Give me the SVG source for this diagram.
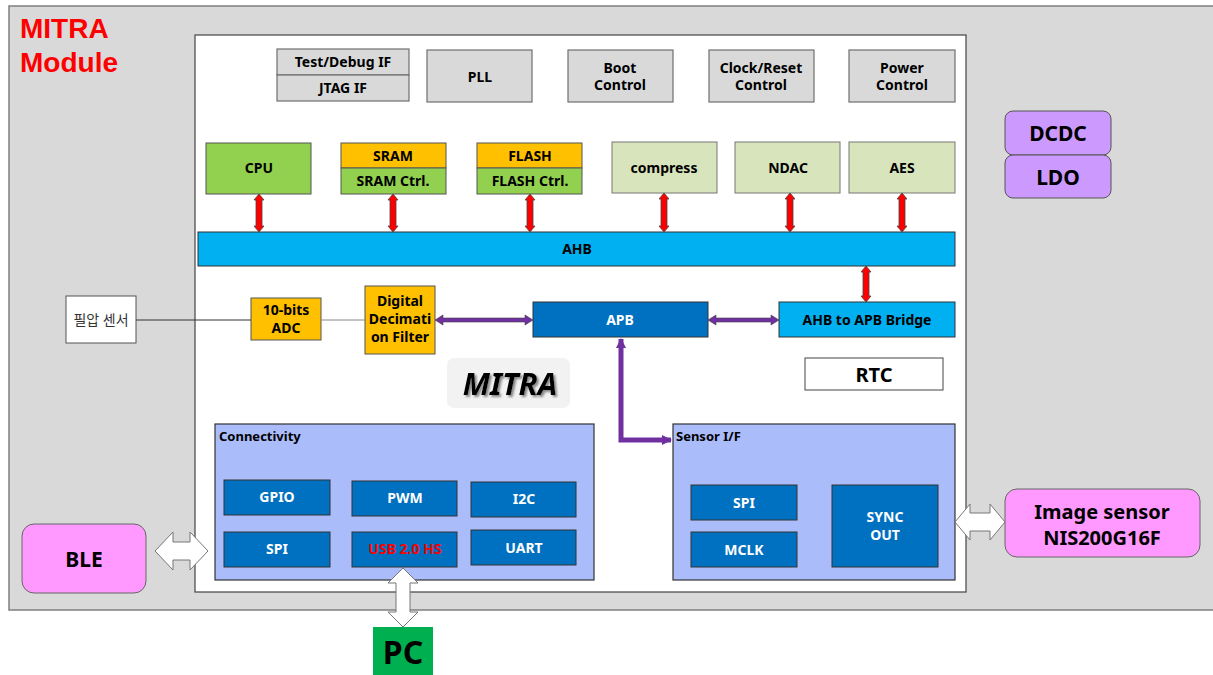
<svg xmlns="http://www.w3.org/2000/svg" width="1213" height="675" viewBox="0 0 1213 675">
<defs>
<style>
text{font-family:"Noto Sans","Noto Sans CJK KR",sans-serif;font-weight:bold;text-anchor:middle;fill:#000}
.g{fill:#d9d9d9;stroke:#6f6f6f;stroke-width:1.2}
.gr{fill:#92d050;stroke:#555;stroke-width:1}
.or{fill:#ffc000;stroke:#555;stroke-width:1}
.lg{fill:#d8e4bc;stroke:#777;stroke-width:1}
.cy{fill:#00b0f0;stroke:#333;stroke-width:1}
.db{fill:#0070c0;stroke:#333;stroke-width:1}
.lb{fill:#abbcfa;stroke:#333;stroke-width:1.2}
.pk{fill:#ff99ff;stroke:#666;stroke-width:1}
.pu{fill:#cc99ff;stroke:#555;stroke-width:1}
.ra{fill:#ff0000;stroke:#444;stroke-width:0.8}
.pa{fill:#7030a0;stroke:#444;stroke-width:0.6}
.ba{fill:#fff;stroke:#777;stroke-width:1}
.t14{font-size:14px}
.w{fill:#fff}
.title{font-family:"Liberation Sans",Arial,sans-serif;font-size:28px;fill:#ff0000;text-anchor:start}
</style>
<marker id="ph" viewBox="0 0 10 10" refX="9" refY="5" markerWidth="10" markerHeight="10" markerUnits="userSpaceOnUse" orient="auto-start-reverse">
<path d="M0,0 L10,5 L0,10 Z" fill="#7030a0"/>
</marker>
<filter id="sh" x="-10%" y="-10%" width="130%" height="130%"><feDropShadow dx="2" dy="2" stdDeviation="1" flood-color="#888"/></filter>
</defs>

<g id="module">
<rect x="9" y="6" width="1210" height="604" fill="#d9d9d9" stroke="#7f7f7f" stroke-width="1.5"/>
<text class="title" x="20" y="38">MITRA</text>
<text class="title" x="20" y="72">Module</text>
</g>
<g id="chip"><rect x="195" y="35" width="771" height="557" fill="#fff" stroke="#444" stroke-width="1.2"/></g>

<g id="testdebug"><rect class="g" x="277" y="49" width="132" height="26"/><text class="t14" x="343" y="67">Test/Debug IF</text></g>
<g id="jtag"><rect class="g" x="277" y="75" width="132" height="26"/><text class="t14" x="343" y="93">JTAG IF</text></g>
<g id="pll"><rect class="g" x="427" y="50" width="105" height="52"/><text class="t14" x="480" y="82">PLL</text></g>
<g id="boot"><rect class="g" x="568" y="50" width="105" height="52"/><text class="t14" x="620" y="73">Boot</text><text class="t14" x="620" y="90">Control</text></g>
<g id="clock"><rect class="g" x="709" y="50" width="105" height="52"/><text class="t14" x="761" y="73">Clock/Reset</text><text class="t14" x="761" y="90">Control</text></g>
<g id="power"><rect class="g" x="849" y="50" width="106" height="52"/><text class="t14" x="902" y="73">Power</text><text class="t14" x="902" y="90">Control</text></g>

<g id="cpu"><rect class="gr" x="206" y="143" width="105" height="51"/><text class="t14" x="259" y="173">CPU</text></g>
<g id="sram"><rect class="or" x="341" y="143" width="105" height="25"/><text class="t14" x="393" y="161">SRAM</text><rect class="gr" x="341" y="168" width="105" height="26"/><text class="t14" x="393" y="186">SRAM Ctrl.</text></g>
<g id="flash"><rect class="or" x="477" y="143" width="105" height="25"/><text class="t14" x="530" y="161">FLASH</text><rect class="gr" x="477" y="168" width="105" height="26"/><text class="t14" x="530" y="186">FLASH Ctrl.</text></g>
<g id="compress"><rect class="lg" x="612" y="142" width="105" height="51"/><text class="t14" x="664" y="173">compress</text></g>
<g id="ndac"><rect class="lg" x="735" y="142" width="105" height="51"/><text class="t14" x="788" y="173">NDAC</text></g>
<g id="aes"><rect class="lg" x="849" y="142" width="106" height="51"/><text class="t14" x="902" y="173">AES</text></g>

<g id="ahb"><rect class="cy" x="198" y="232" width="757" height="34"/><text class="t14" x="577" y="254">AHB</text></g>
<g id="apb"><rect class="db" x="533" y="302" width="175" height="35"/><text class="t14 w" x="620" y="325">APB</text></g>
<g id="bridge"><rect class="cy" x="779" y="302" width="176" height="35"/><text class="t14" x="867" y="325">AHB to APB Bridge</text></g>
<g id="rtc"><rect x="805" y="358" width="138" height="32" fill="#fff" stroke="#444" stroke-width="1"/><text x="874" y="382" style="font-size:20px">RTC</text></g>

<g id="sensor"><rect x="66" y="296" width="70" height="47" fill="#fff" stroke="#555" stroke-width="1"/><text x="101" y="325" style="font-size:14px;font-weight:normal;fill:#333">필압 센서</text></g>
<g id="adc"><rect class="or" x="251" y="298" width="70" height="42"/><text class="t14" x="286" y="315">10-bits</text><text class="t14" x="286" y="333">ADC</text></g>
<g id="filter"><rect class="or" x="365" y="286" width="70" height="68"/><text class="t14" x="400" y="306">Digital</text><text class="t14" x="400" y="324">Decimati</text><text class="t14" x="400" y="342">on Filter</text></g>

<g id="mitra"><rect x="447" y="358" width="123" height="50" rx="7" fill="#f2f2f2"/><text x="510" y="395" style="font-size:31px;font-style:italic" filter="url(#sh)">MITRA</text></g>

<g id="connectivity">
<rect class="lb" x="215" y="424" width="379" height="156"/>
<text x="219" y="441" style="font-size:13px;text-anchor:start">Connectivity</text>
<rect class="db" x="224" y="480" width="106" height="35"/><text class="t14 w" x="277" y="502">GPIO</text>
<rect class="db" x="352" y="481" width="105" height="35"/><text class="t14 w" x="405" y="503">PWM</text>
<rect class="db" x="471" y="482" width="105" height="35"/><text class="t14 w" x="524" y="504">I2C</text>
<rect class="db" x="224" y="532" width="106" height="35"/><text class="t14 w" x="277" y="554">SPI</text>
<rect class="db" x="352" y="532" width="105" height="35"/><text class="t14" x="405" y="554" style="fill:#ff0000">USB 2.0 HS</text>
<rect class="db" x="471" y="530" width="105" height="35"/><text class="t14 w" x="524" y="553">UART</text>
</g>

<g id="sensorif">
<rect class="lb" x="673" y="424" width="282" height="156"/>
<text x="676" y="441" style="font-size:13px;text-anchor:start">Sensor I/F</text>
<rect class="db" x="691" y="485" width="106" height="35"/><text class="t14 w" x="744" y="508">SPI</text>
<rect class="db" x="691" y="532" width="106" height="35"/><text class="t14 w" x="744" y="555">MCLK</text>
<rect class="db" x="832" y="485" width="106" height="82"/><text class="t14 w" x="885" y="522">SYNC</text><text class="t14 w" x="885" y="540">OUT</text>
</g>

<g id="imagesensor"><rect class="pk" x="1005" y="489" width="195" height="68" rx="12"/><text x="1102" y="519" style="font-size:20px">Image sensor</text><text x="1102" y="545" style="font-size:20px">NIS200G16F</text></g>
<g id="ble"><rect class="pk" x="22" y="524" width="124" height="69" rx="12"/><text x="84" y="567" style="font-size:21px">BLE</text></g>
<g id="dcdc"><rect class="pu" x="1005" y="111" width="106" height="44" rx="8"/><text x="1058" y="141" style="font-size:21px">DCDC</text></g>
<g id="ldo"><rect class="pu" x="1005" y="155" width="106" height="43" rx="8"/><text x="1058" y="185" style="font-size:21px">LDO</text></g>
<g id="pc"><rect x="373" y="627" width="60" height="48" fill="#00b050"/><text x="403" y="664" style="font-size:32px">PC</text></g>

<g id="connectors">
<polygon class="ra" points="259,194 264,200 262,200 262,226 264,226 259,232 254,226 256,226 256,200 254,200"/>
<polygon class="ra" points="393,194 398,200 396,200 396,226 398,226 393,232 388,226 390,226 390,200 388,200"/>
<polygon class="ra" points="530,194 535,200 533,200 533,226 535,226 530,232 525,226 527,226 527,200 525,200"/>
<polygon class="ra" points="664,193 669,199 667,199 667,226 669,226 664,232 659,226 661,226 661,199 659,199"/>
<polygon class="ra" points="790,193 795,199 793,199 793,226 795,226 790,232 785,226 787,226 787,199 785,199"/>
<polygon class="ra" points="902,193 907,199 905,199 905,226 907,226 902,232 897,226 899,226 899,199 897,199"/>
<polygon class="ra" points="866,266 871,272 869,272 869,296 871,296 866,302 861,296 863,296 863,272 861,272"/>
<polygon class="pa" points="435,320 443,315 443,318 525,318 525,315 533,320 525,325 525,322 443,322 443,325"/>
<polygon class="pa" points="708,320 716,315 716,318 771,318 771,315 779,320 771,325 771,322 716,322 716,325"/>
<path d="M621,339 V440 H671" fill="none" stroke="#7030a0" stroke-width="5" marker-start="url(#ph)" marker-end="url(#ph)"/>
<line x1="136" y1="320" x2="251" y2="320" stroke="#333" stroke-width="1"/>
<line x1="321" y1="320" x2="365" y2="320" stroke="#888" stroke-width="1"/>
<polygon class="ba" points="155,551 173,532 173,542 190,542 190,532 208,551 190,570 190,560 173,560 173,570"/>
<polygon class="ba" points="955,522 970,504 970,513 990,513 990,504 1005,522 990,540 990,531 970,531 970,540"/>
<polygon class="ba" points="403,568 418,583 410,583 410,612 418,612 403,627 388,612 396,612 396,583 388,583"/>
</g>
</svg>
